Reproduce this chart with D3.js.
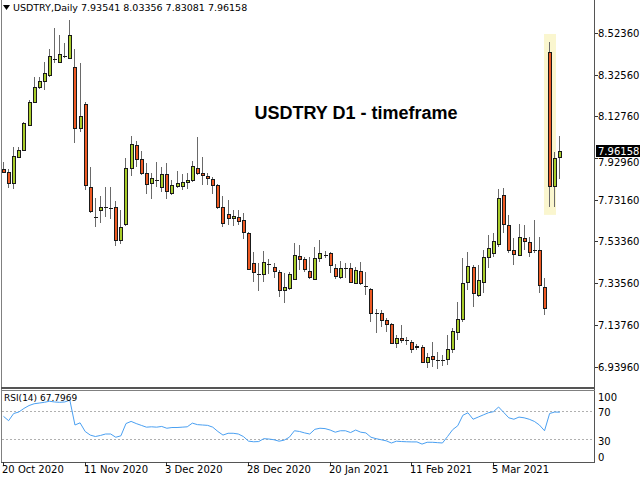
<!DOCTYPE html>
<html><head><meta charset="utf-8">
<script src="https://cdn.jsdelivr.net/npm/d3@7"></script>
<style>body{margin:0;background:#fff}svg{display:block}</style>
</head><body>
<script>
const symbol = "USDTRY,Daily";
const chartTitle = "USDTRY D1 - timeframe";
const rsiName = "RSI(14)";
const rsiLast = "67.7969";
const open = [7.878,7.864,7.811,7.935,7.968,8.087,8.196,8.267,8.296,8.324,8.401,8.386,8.414,8.405,8.362,8.073,8.187,7.792,7.650,7.683,
7.698,7.693,7.698,7.541,7.617,7.883,7.992,7.925,7.859,7.811,7.826,7.792,7.854,7.764,7.797,7.797,7.816,7.826,7.883,7.859,
7.845,7.830,7.802,7.698,7.664,7.645,7.650,7.636,7.574,7.432,7.380,7.379,7.427,7.413,7.389,7.303,7.313,7.356,7.465,7.451,
7.394,7.356,7.455,7.470,7.479,7.408,7.365,7.408,7.408,7.337,7.394,7.323,7.308,7.194,7.194,7.161,7.142,7.052,7.075,7.066,
7.056,7.033,7.033,6.961,6.990,6.971,6.971,6.976,7.023,7.104,7.166,7.341,7.413,7.280,7.341,7.460,7.479,7.522,7.754,7.612,
7.493,7.470,7.550,7.531,7.493,7.493,7.318,8.433,7.797,7.93541];
const high = [7.911,7.878,7.982,7.982,8.101,8.206,8.315,8.315,8.386,8.448,8.547,8.514,8.476,8.585,8.448,8.381,8.196,7.887,7.740,7.750,
7.792,7.792,7.726,7.683,7.930,8.035,8.011,7.963,7.906,7.859,7.911,7.887,7.906,7.826,7.868,7.854,7.859,7.916,8.030,7.935,
7.859,7.840,7.807,7.750,7.731,7.683,7.683,7.669,7.579,7.484,7.432,7.489,7.451,7.432,7.398,7.384,7.389,7.527,7.517,7.460,
7.460,7.508,7.541,7.489,7.484,7.427,7.441,7.432,7.432,7.413,7.436,7.389,7.313,7.213,7.208,7.170,7.147,7.090,7.137,7.080,
7.066,7.047,7.042,7.004,7.056,7.009,6.995,7.090,7.123,7.246,7.455,7.484,7.422,7.422,7.493,7.565,7.574,7.783,7.788,7.660,
7.550,7.617,7.612,7.555,7.636,7.555,7.360,8.481,7.959,8.03356];
const low = [7.859,7.788,7.783,7.930,7.963,8.082,8.191,8.258,8.253,8.315,8.381,8.381,8.405,8.400,8.001,8.054,7.778,7.669,7.603,7.622,
7.650,7.641,7.512,7.522,7.607,7.845,7.887,7.849,7.759,7.735,7.792,7.769,7.735,7.754,7.788,7.778,7.783,7.816,7.849,7.802,
7.802,7.759,7.688,7.603,7.612,7.607,7.612,7.546,7.398,7.341,7.299,7.341,7.379,7.360,7.270,7.242,7.303,7.351,7.398,7.389,
7.356,7.351,7.436,7.455,7.384,7.356,7.356,7.360,7.337,7.332,7.327,7.280,7.151,7.100,7.128,7.104,7.047,7.028,7.052,7.042,
7.004,7.018,6.957,6.933,6.938,6.928,6.942,6.947,7.004,7.066,7.151,7.303,7.223,7.270,7.289,7.408,7.460,7.508,7.574,7.479,
7.422,7.465,7.493,7.460,7.479,7.289,7.185,7.698,7.698,7.83081];
const close = [7.864,7.811,7.940,7.968,8.096,8.196,8.267,8.296,8.334,8.414,8.399,8.424,8.416,8.514,8.073,8.130,7.802,7.679,7.651,7.698,
7.697,7.692,7.541,7.603,7.883,7.997,7.925,7.859,7.807,7.835,7.825,7.854,7.773,7.802,7.811,7.816,7.826,7.892,7.859,7.849,
7.835,7.802,7.698,7.622,7.645,7.655,7.631,7.579,7.403,7.389,7.379,7.436,7.426,7.394,7.303,7.318,7.379,7.470,7.451,7.403,
7.365,7.455,7.479,7.469,7.422,7.370,7.408,7.407,7.341,7.398,7.337,7.322,7.194,7.193,7.161,7.142,7.052,7.075,7.066,7.065,
7.023,7.037,6.961,6.985,6.976,6.970,6.971,7.023,7.109,7.166,7.337,7.417,7.289,7.351,7.460,7.503,7.536,7.740,7.617,7.493,
7.474,7.555,7.536,7.484,7.492,7.327,7.218,7.797,7.930,7.96158];
const rsi = [62,56,66,68,73,77,79.5,80.5,81.5,83,82,81.5,82,84.5,50,53,41,36,34,35.5,
37.5,37.5,33,35,52,55,52,49.5,47,47.5,47,48,45.5,46.5,46.5,47,47.5,52.6,50.5,50,
49.5,47,41,36,38.5,38.5,37.5,34,27.6,26.7,27,31,30.5,29.5,27.5,29,33,42,41,39,
37.5,44,45.5,45,43,40,42,42,39.5,43,40,39,33,31,29.5,28,25,27.5,27,26.7,
26.5,26.5,23.5,26,26,25.5,25,34,43.5,49,63.5,67,58,61,64,67,68.5,75,67.5,60,
58,61,60,58,55,50,42,66,68,67.7969];
const priceTicks = [6.93960,7.13760,7.33560,7.53360,7.73160,7.92960,8.12760,8.32560,8.52360];
const rsiTicks = [100,70,30,0];
const rsiLevels = [70,30];
const dateLabels = ["20 Oct 2020","11 Nov 2020","3 Dec 2020","28 Dec 2020","20 Jan 2021","11 Feb 2021","5 Mar 2021"];
const dateLabelBars = [0,16,32,48,64,80,96];
const highlightBar = 107;

const W = 640, H = 480;
const plotL = 1, plotR = 594, mainB = 387, rsiT = 390, rsiB = 462;
const FONT = "'DejaVu Sans', Tahoma, sans-serif";
const svg = d3.select("body").append("svg").attr("width", W).attr("height", H)
  .style("font-family", FONT);

const n = close.length;
const x = d3.scaleLinear().domain([0, n - 1]).range([3, 3 + (n - 1) * 5.104]);
const y = d3.scaleLinear().domain([6.8427, 8.6803]).range([mainB, 0]);
const yr = d3.scaleLinear().domain([0, 100]).range([461, 389]);
const px = i => Math.round(x(i));

// highlight
const hb = highlightBar;
svg.append("rect").attr("x", px(hb) - 5).attr("width", 12)
  .attr("y", y(high[hb]) - 8).attr("height", y(low[hb]) - y(high[hb]) + 16)
  .attr("fill", "#faf6cf");

// candles
const bars = d3.range(n);
const g = svg.append("g").attr("shape-rendering", "crispEdges");
g.selectAll("rect.wick").data(bars).join("rect").attr("class", "wick")
  .attr("x", i => px(i)).attr("width", 1)
  .attr("y", i => Math.round(y(high[i])))
  .attr("height", i => Math.max(1, Math.round(y(low[i])) - Math.round(y(high[i]))))
  .attr("fill", "#6a6a6a");
const bodyTop = i => Math.round(y(Math.max(open[i], close[i])));
const bodyH = i => Math.max(1, Math.round(y(Math.min(open[i], close[i]))) - bodyTop(i) + 1);
g.selectAll("rect.bo").data(bars).join("rect").attr("class", "bo")
  .attr("x", i => px(i) - 1).attr("width", 4)
  .attr("y", bodyTop).attr("height", bodyH)
  .attr("fill", "#1a1a1a");
g.selectAll("rect.bi").data(bars.filter(i => bodyH(i) > 2)).join("rect").attr("class", "bi")
  .attr("x", i => px(i)).attr("width", 2)
  .attr("y", i => bodyTop(i) + 1).attr("height", i => bodyH(i) - 2)
  .attr("fill", i => close[i] >= open[i] ? "#a8cc2a" : "#ee5a24");

// title
svg.append("text").attr("x", 356).attr("y", 119).attr("text-anchor", "middle")
  .attr("font-family", "'Liberation Sans', Arial, sans-serif").attr("font-weight", "bold")
  .attr("font-size", 18).attr("fill", "#000").text(chartTitle);

// header
svg.append("path").attr("d", "M3,5 L10,5 L6.5,10 Z").attr("fill", "#000");
svg.append("text").attr("x", 13).attr("y", 11).attr("font-size", 9.5).attr("fill", "#000")
  .text(symbol + "  " + [open[n-1], high[n-1], low[n-1], close[n-1]].map(v => v.toFixed(5)).join(" "));

// frames
const fr = svg.append("g").attr("shape-rendering", "crispEdges");
fr.append("line").attr("x1", plotL + 0.5).attr("x2", plotL + 0.5).attr("y1", 0).attr("y2", rsiB).attr("stroke", "#808080");
fr.append("line").attr("x1", plotR + 0.5).attr("x2", plotR + 0.5).attr("y1", 0).attr("y2", rsiB + 1).attr("stroke", "#555");
fr.append("rect").attr("x", plotL).attr("y", mainB).attr("width", plotR - plotL + 1).attr("height", 2).attr("fill", "#555");
fr.append("line").attr("x1", plotL).attr("x2", plotR + 1).attr("y1", rsiT + 0.5).attr("y2", rsiT + 0.5).attr("stroke", "#808080");
fr.append("line").attr("x1", plotL).attr("x2", plotR + 1).attr("y1", rsiB + 0.5).attr("y2", rsiB + 0.5).attr("stroke", "#555");

// price axis
const cy = Math.round(y(close[n - 1]));
const pa = svg.append("g");
priceTicks.forEach(v => {
  const yy = Math.round(y(v)) + 0.5;
  pa.append("line").attr("x1", plotR + 1).attr("x2", plotR + 4).attr("y1", yy).attr("y2", yy)
    .attr("stroke", "#333").attr("shape-rendering", "crispEdges");
  // shift a label hidden behind the current-price box just below it, as in the reference
  const ly = Math.abs(yy - cy) < 11 ? cy + 11 : yy;
  pa.append("text").attr("x", plotR + 4).attr("y", ly).attr("dy", "0.35em")
    .attr("font-size", 10).attr("fill", "#000").text(v.toFixed(5));
});
// current price label
svg.append("rect").attr("x", plotR + 2).attr("y", cy - 6).attr("width", 44).attr("height", 12).attr("fill", "#000");
svg.append("text").attr("x", plotR + 4).attr("y", cy).attr("dy", "0.35em").attr("font-size", 10)
  .attr("fill", "#fff").text(close[n - 1].toFixed(5));

// RSI
const rg = svg.append("g");
rsiLevels.forEach(v => {
  rg.append("line").attr("x1", plotL + 1).attr("x2", plotR).attr("y1", Math.round(yr(v)) + 0.5).attr("y2", Math.round(yr(v)) + 0.5)
    .attr("stroke", "#b0b0b0").attr("stroke-dasharray", "2,2").attr("shape-rendering", "crispEdges");
});
rg.append("path").datum(rsi).attr("fill", "none").attr("stroke", "#4aa0f2").attr("stroke-width", 1)
  .attr("d", d3.line().x((d, i) => x(i) + 0.5).y(d => yr(d)));
const rsiLabelY = {100: 397, 70: 412, 30: 441, 0: 457};
rsiTicks.forEach(v => {
  rg.append("text").attr("x", plotR + 4).attr("y", rsiLabelY[v]).attr("dy", "0.35em")
    .attr("font-size", 10).attr("fill", "#000").text(v);
});
rg.append("text").attr("x", 4).attr("y", 398).attr("dy", "0.35em").attr("font-size", 9)
  .attr("fill", "#000").text(rsiName + " " + rsiLast);

// time axis
const ta = svg.append("g");
dateLabelBars.forEach((b, k) => {
  const xx = px(b) + 0.5;
  ta.append("line").attr("x1", xx).attr("x2", xx).attr("y1", rsiB).attr("y2", rsiB + 4)
    .attr("stroke", "#333").attr("shape-rendering", "crispEdges");
  ta.append("text").attr("x", px(b) - 1).attr("y", 473).attr("font-size", 10)
    .attr("fill", "#000").text(dateLabels[k]);
});
</script>
</body></html>
